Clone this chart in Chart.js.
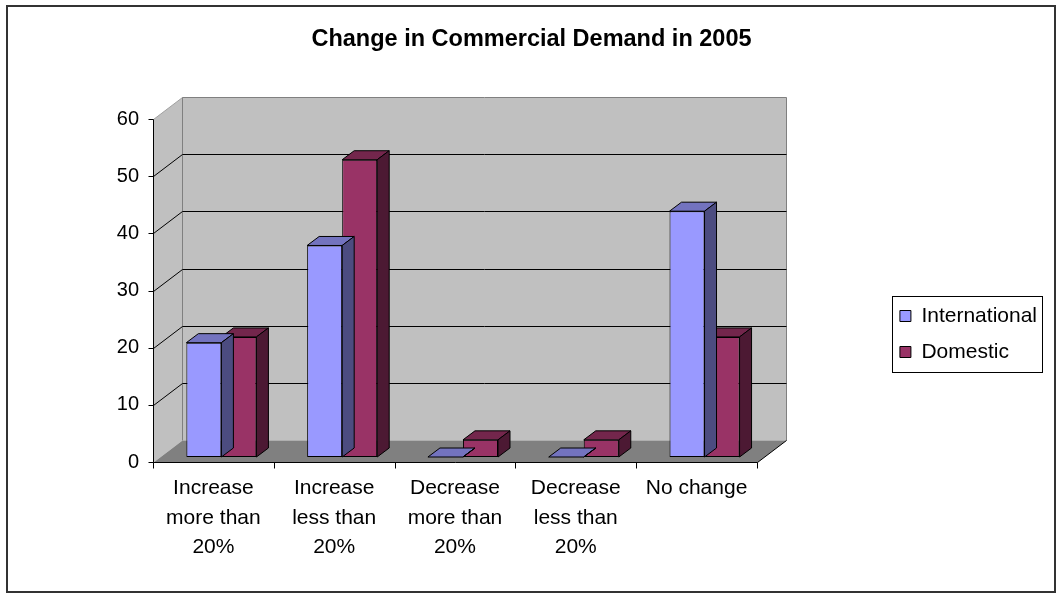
<!DOCTYPE html>
<html>
<head>
<meta charset="utf-8">
<title>Change in Commercial Demand in 2005</title>
<script src="https://cdn.jsdelivr.net/npm/chart.js@4.4.1/dist/chart.umd.min.js"></script>
<style>
  html, body { margin: 0; padding: 0; background: #fff; }
  canvas { display: block; }
</style>
</head>
<body>
<canvas id="chart" width="1057" height="594"></canvas>
<script>
const categories = [
  ['Increase', 'more than', '20%'],
  ['Increase', 'less than', '20%'],
  ['Decrease', 'more than', '20%'],
  ['Decrease', 'less than', '20%'],
  'No change'
]
const international = [20, 37, 0, 0, 43]
const domestic = [21, 52, 3, 3, 21]
const yTicks = [0, 10, 20, 30, 40, 50, 60]

const FONT = '"Liberation Sans", Arial, sans-serif'
const WALL = { dx: 29, dy: -22 } // depth of the back wall
const SHIFT = { dx: 8, dy: -5 } // bars stand a bit behind the front axis
const DEPTH = { dx: 12, dy: -9 } // depth of each bar

const shades = {
  International: { front: '#9999FF', top: '#7373BF', side: '#4C4C80' },
  Domestic: { front: '#993366', top: '#73264C', side: '#4C1933' }
}

function poly (ctx, pts, fill, stroke) {
  ctx.beginPath()
  pts.forEach(([x, y], i) => i ? ctx.lineTo(x, y) : ctx.moveTo(x, y))
  ctx.closePath()
  if (fill) { ctx.fillStyle = fill; ctx.fill() }
  if (stroke) ctx.stroke()
}

function line (ctx, x1, y1, x2, y2) {
  ctx.beginPath()
  ctx.moveTo(x1, y1)
  ctx.lineTo(x2, y2)
  ctx.stroke()
}

// back wall, side wall, floor and the front axes
const walls = {
  id: 'walls',
  beforeDatasetsDraw (chart) {
    const { ctx, chartArea, scales: { y } } = chart
    const L = Math.round(chartArea.left) + 0.5
    const R = Math.round(chartArea.right) + 0.5
    const T = Math.round(chartArea.top) + 0.5
    const B = Math.round(chartArea.bottom) + 0.5
    const dx = WALL.dx
    const dy = WALL.dy
    ctx.save()
    ctx.lineWidth = 1

    poly(ctx, [[L, T], [L + dx, T + dy], [L + dx, B + dy], [L, B]], '#C0C0C0')
    poly(ctx, [[L + dx, T + dy], [R + dx, T + dy], [R + dx, B + dy], [L + dx, B + dy]], '#C0C0C0')
    poly(ctx, [[L, B], [R, B], [R + dx, B + dy], [L + dx, B + dy]], '#808080')

    ctx.strokeStyle = '#A0A0A0'
    line(ctx, L, T, L + dx, T + dy)
    ctx.strokeStyle = '#808080'
    line(ctx, L + dx, T + dy, R + dx, T + dy)
    line(ctx, R + dx, T + dy, R + dx, B + dy)
    line(ctx, L + dx, T + dy, L + dx, B + dy)

    ctx.strokeStyle = '#000'
    yTicks.slice(1, -1).forEach(v => {
      const py = Math.round(y.getPixelForValue(v)) + 0.5
      line(ctx, L + dx, py + dy, R + dx, py + dy)
      line(ctx, L, py, L + dx, py + dy)
    })

    // front axes
    line(ctx, L, T, L, B)
    yTicks.forEach(v => {
      const py = Math.round(y.getPixelForValue(v)) + 0.5
      line(ctx, L - 5, py, L, py)
    })
    line(ctx, L, B, R, B)
    const step = (R - L) / categories.length
    for (let i = 0; i <= categories.length; i++) {
      const px = Math.round(L + i * step - 0.5) + 0.5
      line(ctx, px, B, px, B + 6)
    }
    line(ctx, R, B, R + dx, B + dy)
    ctx.restore()
  }
}

// tops and sides of the columns
const bars3d = {
  id: 'bars3d',
  beforeDatasetDraw (chart) {
    chart.ctx.save()
    chart.ctx.translate(SHIFT.dx, SHIFT.dy)
  },
  afterDatasetDraw (chart, { index, meta }) {
    const { ctx } = chart
    const shade = shades[chart.data.datasets[index].label]
    ctx.lineWidth = 1
    ctx.strokeStyle = '#000'
    meta.data.forEach(bar => {
      const { x, y, base, width } = bar.getProps(['x', 'y', 'base', 'width'], true)
      const l = x - width / 2
      const r = x + width / 2
      poly(ctx, [[l, y], [l + DEPTH.dx, y + DEPTH.dy], [r + DEPTH.dx, y + DEPTH.dy], [r, y]], shade.top, true)
      poly(ctx, [[r, y], [r + DEPTH.dx, y + DEPTH.dy], [r + DEPTH.dx, base + DEPTH.dy], [r, base]], shade.side, true)
    })
    ctx.restore()
  }
}

// frame round the legend and round the whole chart
const frames = {
  id: 'frames',
  afterDraw (chart) {
    const { ctx } = chart
    const boxes = chart.legend.legendHitBoxes
    const l = Math.min(...boxes.map(b => b.left)) - 8
    const t = Math.min(...boxes.map(b => b.top)) - 10
    const r = Math.max(...boxes.map(b => b.left + b.width)) + 5
    const b = Math.max(...boxes.map(b => b.top + b.height)) + 9
    ctx.save()
    ctx.strokeStyle = '#000'
    ctx.lineWidth = 1
    ctx.strokeRect(Math.round(l) + 0.5, Math.round(t) + 0.5, Math.round(r - l), Math.round(b - t))
    ctx.strokeStyle = '#333'
    ctx.lineWidth = 2
    ctx.strokeRect(7, 6, chart.width - 9, chart.height - 8)
    ctx.restore()
  }
}

new Chart(document.getElementById('chart'), {
  type: 'bar',
  data: {
    labels: categories,
    datasets: [{
      label: 'International',
      data: international,
      backgroundColor: shades.International.front
    }, {
      label: 'Domestic',
      data: domestic,
      backgroundColor: shades.Domestic.front
    }]
  },
  options: {
    responsive: false,
    animation: false,
    layout: {
      padding: { top: 8, left: 16, right: 10, bottom: 0 }
    },
    datasets: {
      bar: {
        categoryPercentage: 0.58,
        barPercentage: 1,
        borderWidth: 1,
        borderColor: '#000',
        borderSkipped: false,
        clip: false
      }
    },
    plugins: {
      title: {
        display: true,
        text: 'Change in Commercial Demand in 2005',
        color: '#000',
        font: { family: FONT, size: 23.5, weight: 'bold', lineHeight: 1.2 },
        padding: { top: 17, bottom: 65.8 }
      },
      legend: {
        position: 'right',
        align: 'center',
        title: {
          // empty title, only pushes the entries down
          display: true,
          text: ' ',
          font: { family: FONT, size: 10, lineHeight: 1.2 },
          padding: { top: 54, bottom: 0 }
        },
        labels: {
          boxWidth: 11,
          boxHeight: 11,
          padding: 15,
          color: '#000',
          font: { family: FONT, size: 21 }
        }
      },
      tooltip: { enabled: false }
    },
    scales: {
      x: {
        grid: { display: false, drawTicks: false },
        border: { display: false },
        ticks: {
          color: '#000',
          font: { family: FONT, size: 21, lineHeight: 1.4 },
          padding: 12,
          maxRotation: 0,
          autoSkip: false
        },
        afterFit: s => { s.height = 132 }
      },
      y: {
        min: 0,
        max: 60,
        afterBuildTicks: s => { s.ticks = yTicks.map(v => ({ value: v })) },
        grid: { display: false, drawTicks: false },
        border: { display: false },
        ticks: { color: '#000', font: { family: FONT, size: 20 }, padding: 14 },
        afterFit: s => { s.width = 137 }
      },
      y2: {
        position: 'right',
        display: true,
        grid: { display: false, drawTicks: false },
        border: { display: false },
        ticks: { display: false },
        afterFit: s => { s.width = 128 }
      }
    }
  },
  plugins: [walls, bars3d, frames]
})
</script>
</body>
</html>
